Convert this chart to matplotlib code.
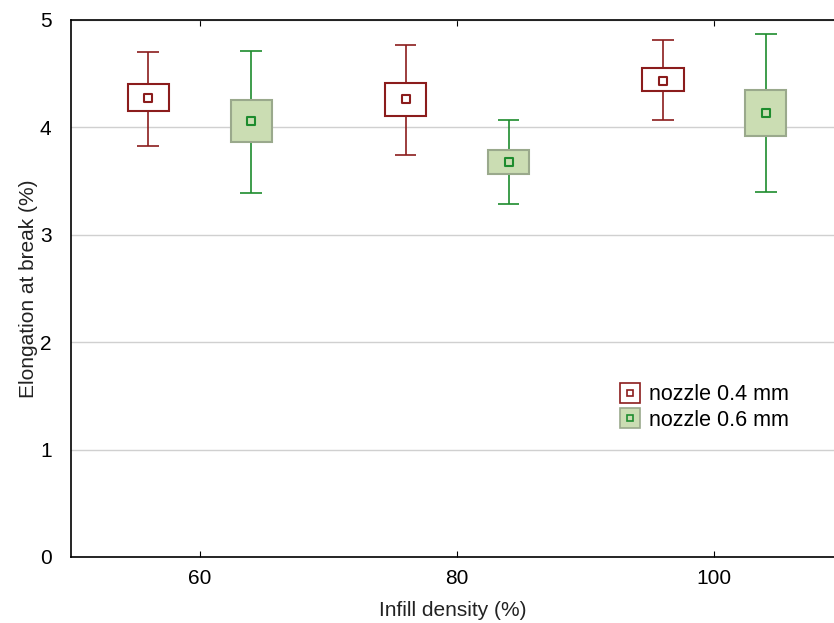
import matplotlib.pyplot as plt
from matplotlib.lines import Line2D
from matplotlib.legend_handler import HandlerTuple
import numpy as np

plt.rcParams['font.family'] = ['Liberation Sans', 'DejaVu Sans']

# Infill density categories
density = [60, 80, 100]

# nozzle 0.4 mm
mean_04 = [4.27, 4.26, 4.43]
box_lo_04 = [4.15, 4.11, 4.34]
box_hi_04 = [4.40, 4.41, 4.55]
whisk_lo_04 = [3.83, 3.74, 4.07]
whisk_hi_04 = [4.70, 4.77, 4.81]

# nozzle 0.6 mm
mean_06 = [4.06, 3.68, 4.13]
box_lo_06 = [3.86, 3.57, 3.92]
box_hi_06 = [4.25, 3.79, 4.35]
whisk_lo_06 = [3.39, 3.29, 3.40]
whisk_hi_06 = [4.71, 4.07, 4.87]

red = '#8b1c1c'
green = '#1e8c2e'
green_fill = '#cbddb3'
green_edge = '#9aa98c'

fig = plt.figure(figsize=(8.34, 6.23), dpi=100)
ax = fig.add_axes([0.0851, 0.106, 0.915, 0.862])


def draw_group(xs, lo, hi, wlo, whi, mn, col, face, edge):
    xs = np.array(xs)
    lo, hi = np.array(lo), np.array(hi)
    ax.vlines(xs, hi, whi, color=col, lw=1.2, zorder=3)
    ax.vlines(xs, wlo, lo, color=col, lw=1.2, zorder=3)
    ax.hlines(whi, xs - 0.85, xs + 0.85, color=col, lw=1.2, zorder=3)
    ax.hlines(wlo, xs - 0.85, xs + 0.85, color=col, lw=1.2, zorder=3)
    ax.bar(xs, hi - lo, bottom=lo, width=3.2, facecolor=face,
           edgecolor=edge, lw=1.5, zorder=3)
    ax.scatter(xs, mn, marker='s', s=30, facecolor=face, edgecolor=col,
               lw=1.5, zorder=4)


x = np.array(density)
draw_group(x - 4, box_lo_04, box_hi_04, whisk_lo_04, whisk_hi_04, mean_04,
           red, 'white', red)
draw_group(x + 4, box_lo_06, box_hi_06, whisk_lo_06, whisk_hi_06, mean_06,
           green, green_fill, green_edge)

ax.set_xlim(50, 109.3)
ax.set_ylim(0, 5)
ax.set_xticks(density)
ax.set_yticks([0, 1, 2, 3, 4, 5])
ax.yaxis.grid(True, color='#d0d0d0', lw=1)
ax.set_axisbelow(True)
ax.spines['right'].set_visible(False)
for s in ['left', 'top', 'bottom']:
    ax.spines[s].set_linewidth(1.2)
ax.tick_params(axis='x', direction='in', top=True, length=4, labelsize=15,
               pad=9, colors='black')
ax.tick_params(axis='y', length=0, labelsize=15, pad=14)
ax.set_xlabel('Infill density (%)', fontsize=15, color='#222222', labelpad=9)
ax.set_ylabel('Elongation at break (%)', fontsize=15, color='#222222',
              labelpad=1)

# legend
h04 = (Line2D([], [], ls='', marker='s', ms=15, mfc='white', mec=red, mew=1.2),
       Line2D([], [], ls='', marker='s', ms=5, mfc='white', mec=red, mew=1.2))
h06 = (Line2D([], [], ls='', marker='s', ms=15, mfc=green_fill, mec=green_edge,
              mew=1.2),
       Line2D([], [], ls='', marker='s', ms=5, mfc=green_fill, mec=green,
              mew=1.2))
ax.legend([h04, h06], ['nozzle 0.4 mm', 'nozzle 0.6 mm'],
          handler_map={tuple: HandlerTuple(ndivide=1)},
          loc='upper left', bbox_to_anchor=(0.71, 0.338), frameon=False,
          fontsize=15.5, handlelength=0.8, handletextpad=0.5,
          labelspacing=0.22, borderaxespad=0)

fig.savefig('out.png', dpi=100)
